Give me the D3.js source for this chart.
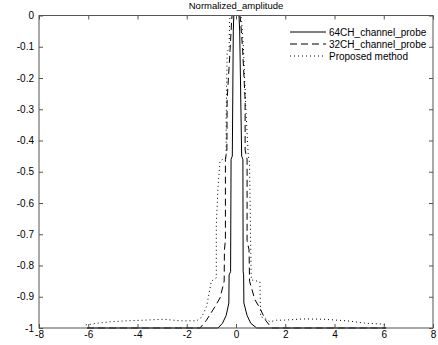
<!DOCTYPE html>
<html>
<head>
<meta charset="utf-8">
<script src="https://cdn.jsdelivr.net/npm/d3@7"></script>
<style>
  body { margin: 0; background: #fff; }
  text { font-family: "Liberation Sans Narrow", "Arial Narrow", "Liberation Sans", sans-serif; }
</style>
</head>
<body>
<div id="chart"></div>
<script>
// values: [x, normalized amplitude]
const probe64 = [
  [-6.05, -1], [-0.73, -1], [-0.55, -0.985], [-0.4, -0.96], [-0.29, -0.92],
  [-0.28, -0.83], [-0.22, -0.82], [-0.2, -0.46], [-0.15, -0.45], [-0.11, -0.05],
  [-0.09, 0], [0.12, 0], [0.15, -0.05], [0.23, -0.45],
  [0.28, -0.46], [0.29, -0.82], [0.31, -0.83], [0.32, -0.92], [0.45, -0.96],
  [0.6, -0.985], [0.84, -1], [6.1, -1]
];
const probe32 = [
  [-6.05, -1], [-1.46, -1], [-1.2, -0.975], [-0.92, -0.94], [-0.65, -0.904],
  [-0.48, -0.85], [-0.47, -0.75], [-0.43, -0.72], [-0.43, -0.46], [-0.37, -0.43],
  [-0.36, -0.27], [-0.24, -0.11], [-0.18, -0.02], [-0.16, 0], [0.16, 0], [0.19, -0.02],
  [0.27, -0.11], [0.37, -0.27], [0.37, -0.43], [0.45, -0.46], [0.45, -0.72],
  [0.53, -0.75], [0.55, -0.85], [0.77, -0.91], [0.97, -0.936], [1.2, -0.975],
  [1.45, -1], [6.1, -1]
];
const proposed = [
  [-6.1, -0.99], [-5.66, -0.985], [-5.1, -0.98], [-4.44, -0.977], [-3.76, -0.975],
  [-2.95, -0.972], [-2.27, -0.977], [-1.6, -0.977], [-1.39, -0.965], [-1.19, -0.93],
  [-1.0, -0.85], [-0.8, -0.84], [-0.8, -0.67], [-0.73, -0.55], [-0.65, -0.465],
  [-0.4, -0.455], [-0.4, -0.33], [-0.36, -0.12], [-0.28, -0.1], [-0.26, -0.02],
  [-0.24, 0], [0.2, 0], [0.23, -0.02], [0.3, -0.1], [0.4, -0.3], [0.5, -0.45], [0.55, -0.47],
  [0.6, -0.75], [0.62, -0.846], [0.97, -0.852], [1.0, -0.964], [1.18, -0.968],
  [1.38, -0.98], [1.65, -0.975], [1.92, -0.975], [2.73, -0.971], [3.55, -0.972],
  [4.5, -0.977], [5.3, -0.985], [6.12, -0.988]
];
const seriesNames = ["64CH_channel_probe", "32CH_channel_probe", "Proposed method"];
const xTicks = [-8, -6, -4, -2, 0, 2, 4, 6, 8];
const yTicks = [0, -0.1, -0.2, -0.3, -0.4, -0.5, -0.6, -0.7, -0.8, -0.9, -1];
const title = "Normalized_amplitude";

const width = 438, height = 345;
const margin = {left: 39, right: 5, top: 15.5, bottom: 17};

const svg = d3.select("#chart").append("svg")
  .attr("width", width)
  .attr("height", height);

const x = d3.scaleLinear().domain([-8, 8]).range([margin.left, width - margin.right]);
const y = d3.scaleLinear().domain([-1, 0]).range([height - margin.bottom, margin.top]);

const axisColor = "#555";
const fmt = d => d === 0 ? "0" : (Number.isInteger(d) ? d.toString() : d.toFixed(1));

function styleAxis(g) {
  g.select(".domain").remove();
  g.selectAll("line").attr("stroke", axisColor);
  g.selectAll("text").attr("fill", "#000").style("font-size", "10px");
}

svg.append("g")
  .attr("transform", `translate(0,${y(-1)})`)
  .call(d3.axisBottom(x).tickValues(xTicks).tickSize(-4).tickPadding(3).tickFormat(fmt))
  .call(styleAxis);
svg.append("g")
  .attr("transform", `translate(0,${y(0)})`)
  .call(d3.axisTop(x).tickValues(xTicks).tickSize(-4).tickFormat(""))
  .call(styleAxis);
svg.append("g")
  .attr("transform", `translate(${x(-8)},0)`)
  .call(d3.axisLeft(y).tickValues(yTicks).tickSize(-4).tickPadding(5).tickFormat(fmt))
  .call(styleAxis);
svg.append("g")
  .attr("transform", `translate(${x(8)},0)`)
  .call(d3.axisRight(y).tickValues(yTicks).tickSize(-4).tickFormat(""))
  .call(styleAxis);

const dashes = [null, "7,4", "1,3"];
const lineGen = d3.line().x(d => x(d[0])).y(d => y(d[1]));

[probe64, probe32, proposed].forEach((s, i) => {
  svg.append("path")
    .attr("d", lineGen(s))
    .attr("fill", "none")
    .attr("stroke", "#000")
    .attr("stroke-width", 1)
    .attr("stroke-dasharray", dashes[i]);
});

// frame drawn over the curves, like the original
svg.append("rect")
  .attr("x", x(-8)).attr("y", y(0))
  .attr("width", x(8) - x(-8)).attr("height", y(-1) - y(0))
  .attr("fill", "none").attr("stroke", axisColor).attr("stroke-width", 1);

svg.append("text")
  .attr("x", (x(-8) + x(8)) / 2)
  .attr("y", 9)
  .attr("text-anchor", "middle")
  .style("font-size", "9.5px")
  .text(title);

const legend = svg.append("g");
seriesNames.forEach((name, i) => {
  const ly = 32 + i * 12;
  legend.append("line")
    .attr("x1", 290).attr("x2", 326)
    .attr("y1", ly).attr("y2", ly)
    .attr("stroke", "#000")
    .attr("stroke-width", 1)
    .attr("stroke-dasharray", dashes[i]);
  legend.append("text")
    .attr("x", 329).attr("y", ly)
    .attr("dy", "0.35em")
    .style("font-size", "10px")
    .text(name);
});
</script>
</body>
</html>
